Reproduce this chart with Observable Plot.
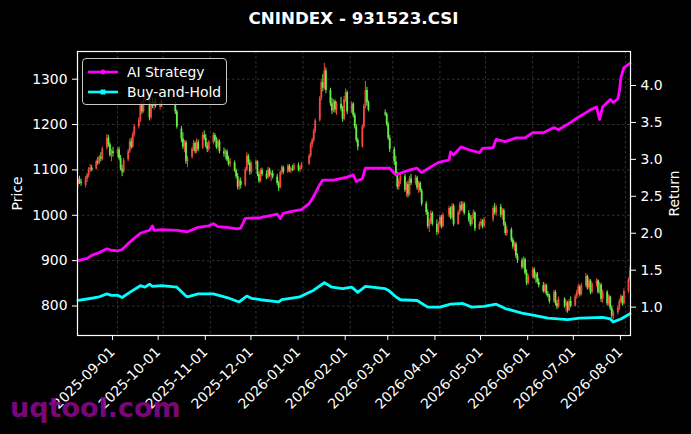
<!DOCTYPE html>
<html><head><meta charset="utf-8">
<script src="https://cdn.jsdelivr.net/npm/d3@7"></script>
<script src="https://cdn.jsdelivr.net/npm/@observablehq/plot@0.6"></script>
<style>
html,body{margin:0;padding:0;background:#000;}
#wrap{position:relative;width:691px;height:434px;background:#000;overflow:hidden;font-family:"DejaVu Sans",sans-serif;color:#fff;}
#wrap > svg{position:absolute;left:0;top:0;}
#title{position:absolute;left:77px;width:553px;top:8px;text-align:center;font-weight:bold;font-size:16.7px;line-height:20px;}
#legend{position:absolute;left:82px;top:58px;width:143px;height:45px;border:1px solid #c8c8c8;border-radius:4px;background:rgba(0,0,0,0.8);z-index:5;}
.item{position:absolute;left:0;width:143px;height:20px;font-size:13.9px;line-height:20px;}
.item svg{position:absolute;left:0;top:0;}
.item span{position:absolute;left:44px;top:0;white-space:nowrap;}
#wm{position:absolute;left:10px;top:394px;font-weight:bold;font-size:27px;line-height:27px;color:rgba(135,8,135,0.92);z-index:6;white-space:nowrap;}
</style></head>
<body>
<div id="wrap">
  <div id="title"></div>
  <div id="legend">
    <div class="item" style="top:2.7px"><svg width="44" height="20"><line x1="5" x2="35" y1="10" y2="10" stroke="#ff00ff" stroke-width="2.6"/><circle cx="20" cy="10" r="2.4" fill="#ff00ff"/></svg><span id="l1"></span></div>
    <div class="item" style="top:23px"><svg width="44" height="20"><line x1="5" x2="35" y1="10" y2="10" stroke="#00ffff" stroke-width="2.6"/><rect x="17.5" y="7.5" width="5" height="5" fill="#00ffff"/></svg><span id="l2"></span></div>
  </div>
  <div id="wm">uqtool.com</div>
</div>
<script>
const titleText = "CNINDEX - 931523.CSI";
const seriesNames = ["AI Strategy", "Buy-and-Hold"];
const priceLabel = "Price", returnLabel = "Return";

const priceTicks = [800, 900, 1000, 1100, 1200, 1300];
const returnTicks = [1.0, 1.5, 2.0, 2.5, 3.0, 3.5, 4.0];
const xTickLabels = ["2025-09-01","2025-10-01","2025-11-01","2025-12-01","2026-01-01","2026-02-01","2026-03-01","2026-04-01","2026-05-01","2026-06-01","2026-07-01","2026-08-01"];

const firstDay = "2025-08-06", lastDay = "2026-08-04";
const holidays = ["2025-10-01","2025-10-02","2025-10-03","2025-10-06","2025-10-07","2025-10-08","2026-01-01","2026-01-02","2026-02-16","2026-02-17","2026-02-18","2026-02-19","2026-02-20","2026-02-23","2026-04-06","2026-05-01","2026-05-04","2026-05-05","2026-06-19"];

const opens = [
1068,1078,1072,1066,1080,1088,1100,1104,1102,1118,1115,1128,1124,1148,1170,1155,1132,1140,
1136,1144,1125,1102,1095,1122,1140,1162,1150,1178,1195,1210,1242,1228,1255,1260,1215,1245,1240,1250,1238,1248,
1242,1228,1190,1168,1150,1160,1118,1128,1146,1158,1140,1160,1148,1176,1170,1152,1145,
1160,1176,1165,1150,1162,1140,1135,1140,1122,1112,1115,1098,1085,1062,1075,1066,1100,1130,1115,1095,
1112,1118,1090,1075,1098,1090,1082,1100,1088,1092,1084,1070,1060,1094,1105,1095,1108,1098,1102,1100,1110,1100,1104,
1112,1130,1155,1165,1185,1210,1258,1292,1280,1318,1275,1246,1230,1250,1232,1245,1234,1212,1255,1270,
1228,1245,1220,1195,1165,1150,1195,1240,1275,1248,1225,1222,1200,1170,
1145,1118,1090,1062,1075,1085,1055,1068,1045,1080,1070,1082,1060,1070,1054,1025,1006,975,985,1004,980,962,
980,995,975,1000,1015,994,1020,980,1005,1022,1012,1025,1004,990,980,995,1005,970,980,985,975,
990,1015,1005,1018,1000,1010,980,960,968,945,930,936,910,900,885,902,872,850,
865,880,862,870,852,845,832,845,826,822,810,830,805,798,815,800,806,790,810,800,820,
830,842,825,845,865,840,855,830,848,855,830,846,815,830,805,820,795,778,785,795,810,820,805,
832,858];
const highs = [
1082,1086,1080,1085,1092,1105,1112,1110,1122,1128,1132,1138,1150,1178,1176,1160,1145,1150,
1148,1150,1132,1110,1125,1145,1168,1170,1182,1200,1215,1248,1250,1262,1276,1266,1250,1258,1256,1258,1252,1256,
1250,1232,1196,1182,1165,1164,1130,1150,1165,1162,1168,1166,1182,1186,1178,1160,1165,
1182,1180,1172,1168,1166,1148,1145,1144,1130,1125,1120,1102,1092,1080,1082,1105,1138,1134,1122,1118,
1122,1120,1095,1102,1104,1098,1106,1104,1096,1098,1090,1075,1098,1110,1108,1112,1112,1106,1110,1114,1115,1108,1116,
1135,1160,1170,1190,1212,1262,1300,1310,1335,1325,1280,1258,1255,1254,1250,1260,1240,1262,1278,1274,
1250,1248,1225,1200,1170,1200,1245,1295,1282,1252,1232,1226,1205,1176,
1150,1130,1095,1080,1092,1090,1072,1075,1085,1090,1088,1086,1075,1074,1058,1030,1012,992,1010,1008,990,985,
1000,1000,1005,1020,1018,1026,1024,1010,1028,1030,1030,1028,1010,1000,1000,1012,1008,985,992,990,995,
1020,1026,1022,1024,1015,1014,985,975,972,950,942,940,915,905,908,906,880,870,
885,884,875,874,860,852,850,848,832,826,835,834,812,820,818,812,810,815,820,825,835,
848,846,850,872,868,860,858,852,860,858,852,850,835,834,825,822,800,790,800,815,825,822,838,
862,888];
const lows = [
1062,1068,1064,1060,1072,1082,1094,1096,1100,1110,1112,1118,1120,1144,1150,1128,1118,1128,
1128,1120,1098,1085,1092,1118,1136,1145,1148,1172,1190,1205,1222,1225,1248,1208,1210,1235,1232,1236,1232,1238,
1222,1190,1160,1145,1138,1112,1105,1124,1140,1135,1136,1140,1145,1165,1148,1138,1140,
1155,1160,1145,1146,1135,1128,1122,1118,1108,1105,1095,1080,1056,1055,1058,1062,1096,1110,1088,1090,
1100,1085,1070,1072,1085,1078,1080,1084,1074,1080,1065,1052,1058,1088,1090,1092,1094,1092,1096,1098,1096,1094,1100,
1110,1126,1148,1160,1180,1205,1252,1272,1276,1268,1240,1222,1226,1225,1220,1228,1205,1208,1248,1222,
1224,1215,1190,1160,1142,1148,1190,1235,1240,1228,1218,1196,1165,1138,
1110,1085,1056,1055,1068,1050,1040,1038,1042,1065,1066,1055,1048,1050,1020,1000,970,962,980,976,955,958,
975,970,972,995,990,990,975,978,1000,1008,1008,1000,985,975,976,990,964,967,975,970,972,
985,1000,998,995,990,975,955,953,940,925,920,905,894,880,882,868,845,846,
860,858,850,848,840,828,828,822,818,805,806,800,792,795,795,786,784,788,796,798,815,
824,820,822,840,835,836,825,826,842,826,826,808,806,800,800,790,772,769,780,790,805,800,802,
828,852];
const closes = [
1078,1072,1070,1080,1088,1100,1104,1100,1118,1115,1128,1124,1146,1170,1155,1132,1140,1136,
1144,1125,1102,1095,1120,1140,1162,1150,1178,1195,1210,1242,1228,1255,1260,1215,1245,1240,1250,1240,1248,1242,
1228,1195,1168,1150,1160,1118,1125,1146,1158,1140,1160,1145,1176,1170,1152,1145,1160,
1176,1165,1150,1162,1140,1135,1140,1122,1112,1118,1098,1085,1062,1075,1066,1100,1130,1115,1095,1112,
1118,1090,1075,1098,1090,1082,1100,1088,1092,1084,1070,1060,1094,1105,1095,1108,1098,1102,1100,1110,1100,1104,1112,
1130,1155,1165,1185,1208,1258,1292,1280,1318,1275,1246,1230,1250,1232,1245,1234,1212,1255,1270,1228,
1245,1220,1195,1165,1150,1195,1240,1275,1248,1232,1222,1200,1170,1145,
1118,1090,1062,1075,1085,1055,1068,1045,1080,1070,1082,1060,1070,1054,1025,1006,975,985,1004,980,962,980,
995,975,1000,1015,994,1020,980,1005,1022,1012,1025,1004,990,980,995,1005,970,980,985,975,990,
1015,1005,1018,1000,1010,980,960,968,945,930,936,910,900,885,902,872,850,865,
880,862,870,852,845,832,845,826,822,810,830,805,798,815,800,806,790,810,800,820,830,
842,825,845,865,840,855,830,848,855,830,846,815,830,805,820,795,778,785,795,810,820,805,832,
858,880];

const aiDates = ["2025-08-06","2025-08-12","2025-08-15","2025-08-20","2025-08-25","2025-08-28","2025-09-01","2025-09-04","2025-09-08","2025-09-12","2025-09-16","2025-09-22","2025-09-24","2025-09-25","2025-09-30","2025-10-10","2025-10-17","2025-10-24","2025-10-31","2025-11-03","2025-11-06","2025-11-12","2025-11-19","2025-11-21","2025-11-24","2025-12-04","2025-12-15","2025-12-17","2025-12-19","2025-12-23","2025-12-31","2026-01-05","2026-01-08","2026-01-12","2026-01-14","2026-01-21","2026-01-30","2026-02-03","2026-02-05","2026-02-09","2026-02-11","2026-02-27","2026-03-03","2026-03-11","2026-03-17","2026-03-20","2026-03-23","2026-03-31","2026-04-07","2026-04-08","2026-04-10","2026-04-15","2026-04-20","2026-04-27","2026-04-29","2026-05-06","2026-05-08","2026-05-14","2026-05-21","2026-05-27","2026-06-01","2026-06-08","2026-06-15","2026-06-18","2026-06-26","2026-07-01","2026-07-09","2026-07-13","2026-07-15","2026-07-17","2026-07-22","2026-07-24","2026-07-27","2026-07-28","2026-07-29","2026-07-30","2026-07-31","2026-08-04"];
const aiValues = [1.63,1.66,1.70,1.74,1.79,1.77,1.76,1.78,1.86,1.93,2.00,2.04,2.10,2.04,2.05,2.04,2.02,2.08,2.10,2.13,2.09,2.08,2.06,2.07,2.20,2.21,2.26,2.20,2.27,2.29,2.32,2.40,2.50,2.66,2.72,2.72,2.76,2.79,2.70,2.74,2.88,2.88,2.79,2.85,2.88,2.82,2.86,2.96,2.99,3.10,3.06,3.17,3.13,3.09,3.15,3.16,3.27,3.24,3.29,3.29,3.36,3.36,3.43,3.40,3.50,3.57,3.67,3.71,3.54,3.71,3.81,3.77,3.82,3.92,4.10,4.18,4.24,4.30];

const bhDates = ["2025-08-06","2025-08-12","2025-08-20","2025-08-25","2025-08-28","2025-09-01","2025-09-04","2025-09-09","2025-09-16","2025-09-19","2025-09-22","2025-09-24","2025-09-30","2025-10-10","2025-10-16","2025-10-17","2025-10-24","2025-11-03","2025-11-12","2025-11-20","2025-11-25","2025-11-28","2025-12-04","2025-12-16","2025-12-18","2025-12-30","2026-01-08","2026-01-15","2026-01-20","2026-01-27","2026-02-02","2026-02-06","2026-02-11","2026-02-24","2026-02-26","2026-03-03","2026-03-06","2026-03-17","2026-03-24","2026-04-01","2026-04-08","2026-04-16","2026-04-22","2026-04-30","2026-05-08","2026-05-14","2026-05-25","2026-06-02","2026-06-11","2026-06-24","2026-07-02","2026-07-17","2026-07-22","2026-07-24","2026-07-29","2026-08-04"];
const bhValues = [1.09,1.11,1.14,1.18,1.16,1.16,1.13,1.20,1.29,1.27,1.31,1.28,1.29,1.27,1.15,1.14,1.18,1.18,1.13,1.07,1.15,1.12,1.10,1.07,1.10,1.14,1.23,1.33,1.27,1.25,1.27,1.20,1.28,1.25,1.23,1.14,1.10,1.09,1.00,1.00,1.04,1.05,1.00,1.01,1.04,0.98,0.92,0.89,0.85,0.83,0.85,0.86,0.84,0.80,0.84,0.91];

// ---- build ----
const fmt = d3.utcFormat("%Y-%m-%d");
const tradingDays = d3.utcDay.range(new Date(firstDay), d3.utcDay.offset(new Date(lastDay), 1))
  .filter(d => d.getUTCDay() !== 0 && d.getUTCDay() !== 6 && !holidays.includes(fmt(d)));
const candles = tradingDays.map((date, i) => ({date, open: opens[i], high: highs[i], low: lows[i], close: closes[i]}))
  .filter(d => d.open != null && d.close != null);
const aiData = aiDates.map((d, i) => ({date: new Date(d), value: aiValues[i]}));
const bhData = bhDates.map((d, i) => ({date: new Date(d), value: bhValues[i]}));
const xTicks = xTickLabels.map(d => new Date(d));
const xDomain = [new Date("2025-08-05T16:00:00Z"), new Date("2026-08-04T08:00:00Z")];

const upColor = "#f2493c", downColor = "#66ee48";
const cColor = d => d.close >= d.open ? upColor : downColor;
const gridStyle = {stroke: "#808080", strokeOpacity: 0.55, strokeWidth: 0.7, strokeDasharray: "2.5,2.5"};
const FS = 13.9;
const common = {
  width: 691, height: 434, marginLeft: 77, marginRight: 61, marginTop: 51, marginBottom: 99,
  style: {background: "transparent", color: "#fff", fontFamily: "DejaVu Sans, sans-serif", fontSize: FS + "px", overflow: "visible"}
};

const pricePlot = Plot.plot({
  ...common,
  x: {type: "utc", domain: xDomain},
  y: {domain: [735, 1361]},
  marks: [
    Plot.gridX(xTicks, gridStyle),
    Plot.gridY(priceTicks, gridStyle),
    Plot.ruleX(candles, {x: "date", y1: "low", y2: "high", stroke: cColor, strokeWidth: 1}),
    Plot.ruleX(candles, {x: "date", y1: "open", y2: "close", stroke: cColor, strokeWidth: 1.8}),
    Plot.axisY(priceTicks, {anchor: "left", tickSize: 5, tickPadding: 5, tickFormat: d3.format("d"), label: null}),
    Plot.axisX(xTicks, {anchor: "bottom", tickRotate: -45, tickFormat: fmt, tickSize: 5, tickPadding: 9, dx: -5, label: null}),
    Plot.text([priceLabel], {text: d => d, frameAnchor: "left", textAnchor: "middle", dx: -60, rotate: -90, fill: "#fff"})
  ]
});

const returnPlot = Plot.plot({
  ...common,
  x: {type: "utc", domain: xDomain, axis: null},
  y: {domain: [0.616, 4.46], axis: null},
  marks: [
    Plot.line(bhData, {x: "date", y: "value", stroke: "#00ffff", strokeWidth: 2.8, curve: "linear"}),
    Plot.line(aiData, {x: "date", y: "value", stroke: "#ff00ff", strokeWidth: 2.8, curve: "linear"}),
    Plot.axisY(returnTicks, {anchor: "right", tickSize: 5, tickPadding: 5, tickFormat: d3.format(".1f"), label: null}),
    Plot.text([returnLabel], {text: d => d, frameAnchor: "right", textAnchor: "middle", dx: 44, rotate: -90, fill: "#fff"}),
    Plot.frame({stroke: "#fff", strokeWidth: 1.2})
  ]
});

for (const svg of [pricePlot, returnPlot]) {
  svg.querySelectorAll("text").forEach(t => {
    t.style.fontSize = FS + "px";
    t.style.fontFamily = "DejaVu Sans, sans-serif";
  });
}

const wrap = document.getElementById("wrap");
wrap.insertBefore(returnPlot, document.getElementById("legend"));
wrap.insertBefore(pricePlot, returnPlot);
document.getElementById("title").textContent = titleText;
document.getElementById("l1").textContent = seriesNames[0];
document.getElementById("l2").textContent = seriesNames[1];
</script>
</body></html>
